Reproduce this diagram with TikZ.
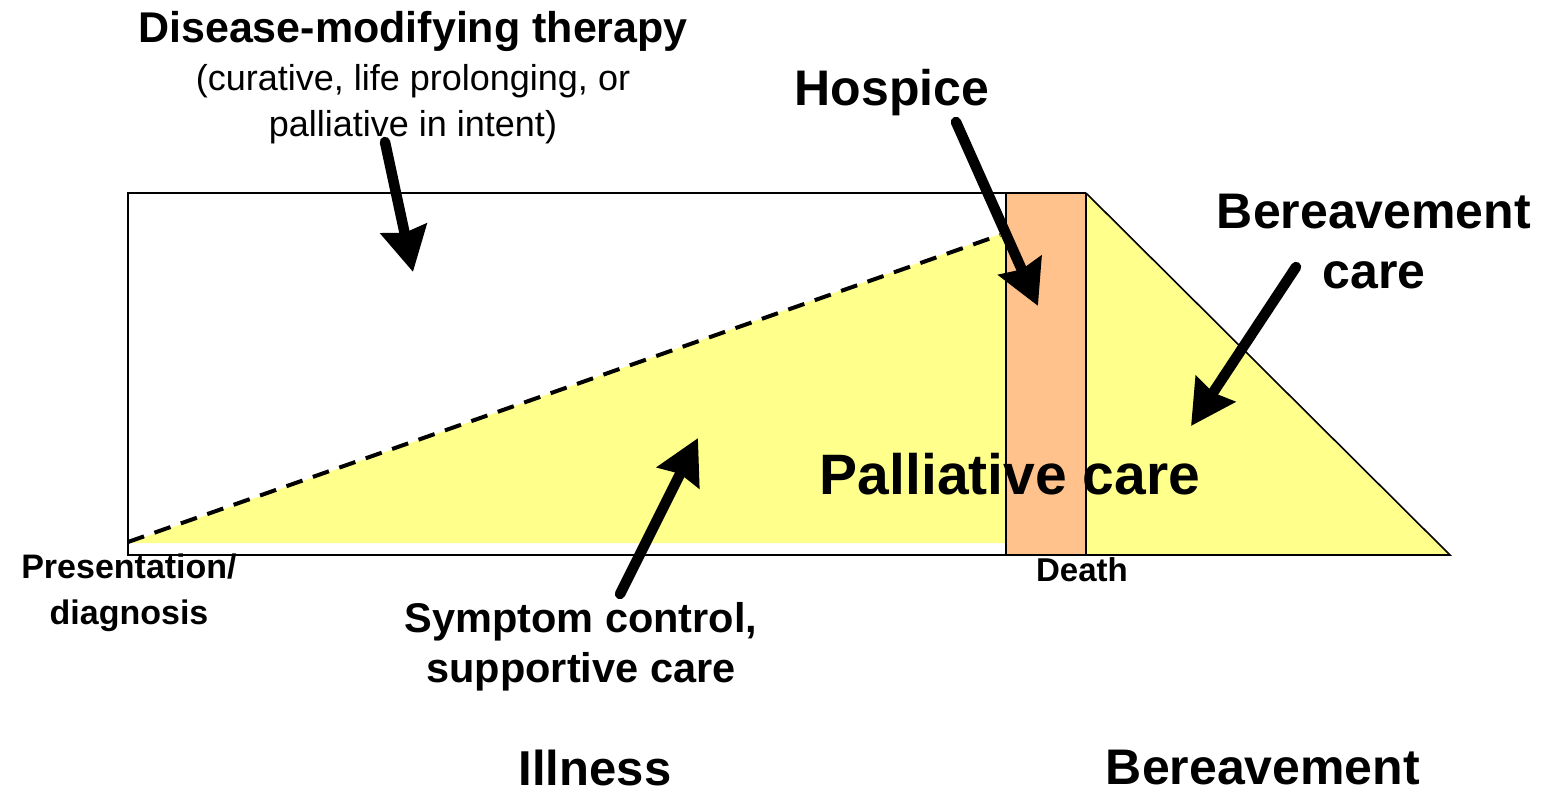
\documentclass[tikz,border=0pt]{standalone}
\usepackage{fontspec}
\setmainfont{Liberation Sans}
\usetikzlibrary{arrows.meta}
\definecolor{palyellow}{HTML}{FFFF8C}
\definecolor{hosporange}{HTML}{FFC28C}
\tikzset{
  outline/.style={draw=black, line width=1.6pt},
  bigarrow/.style={line width=10.5pt, line cap=round, -{Stealth[length=44pt,width=46pt,inset=4pt]}},
  lbl/.style={inner sep=0pt, align=center, font=\bfseries},
}
\newcommand{\fsz}[1]{\fontsize{#1}{#1}\selectfont}
\begin{document}
\begin{tikzpicture}[x=1pt,y=-1pt]
\useasboundingbox (0,0) rectangle (1544,792);
% yellow areas
\fill[palyellow] (128,543) -- (1006,232) -- (1006,543) -- cycle;
\fill[palyellow] (1086,193) -- (1450,555) -- (1086,555) -- cycle;
\fill[hosporange] (1006,193) rectangle (1086,555);
% outlines
\draw[outline] (1086,555) -- (128,555) -- (128,193) -- (1086,193);
\draw[outline] (1086,555) -- (1450,555) -- (1086,193);
\draw[outline] (1006,193) -- (1006,555);
\draw[outline] (1086,193) -- (1086,555);
% dashed line
\draw[line width=4pt, dash pattern=on 17pt off 11pt] (128,542) -- (1000,235);

% texts
\node[lbl, font=\bfseries\fsz{43}] (dmt) at (413,31) {Disease-modifying therapy};
\node[inner sep=0pt, align=center, font=\fsz{36}] (dmtsub) at (413,104) {(curative, life prolonging, or\\[10pt]palliative in intent)};
\node[lbl, font=\bfseries\fsz{50}] (hosp) at (892,93) {Hospice};
\node[lbl, font=\bfseries\fsz{50}] (bcare) at (1374,242) {Bereavement\\[10pt]care};
\node[lbl, font=\bfseries\fsz{57}] (pall) at (1010,474) {Palliative care};
\node[lbl, font=\bfseries\fsz{34}] (pres) at (129,593) {Presentation/\\[12pt]diagnosis};
\node[lbl, font=\bfseries\fsz{33}] (death) at (1082,570) {Death};
\node[lbl, font=\bfseries\fsz{41.5}] (symp) at (581,647) {Symptom control,\\[9pt]supportive care};
\node[lbl, font=\bfseries\fsz{49}] (ill) at (595,768) {Illness};
\node[lbl, font=\bfseries\fsz{50}] (ber) at (1263,768) {Bereavement};

% arrows
\coordinate (dmtA) at (385,142);
\coordinate (dmtB) at (413,272);
\coordinate (hospA) at (956,122);
\coordinate (hospB) at (1038,306);
\coordinate (berA) at (1296,267);
\coordinate (berB) at (1191,426);
\coordinate (sympA) at (620,594);
\coordinate (sympB) at (698,438);
\draw[bigarrow] (dmtA) -- (dmtB);
\draw[bigarrow] (hospA) -- (hospB);
\draw[bigarrow] (berA) -- (berB);
\draw[bigarrow] (sympA) -- (sympB);
\end{tikzpicture}
\end{document}
